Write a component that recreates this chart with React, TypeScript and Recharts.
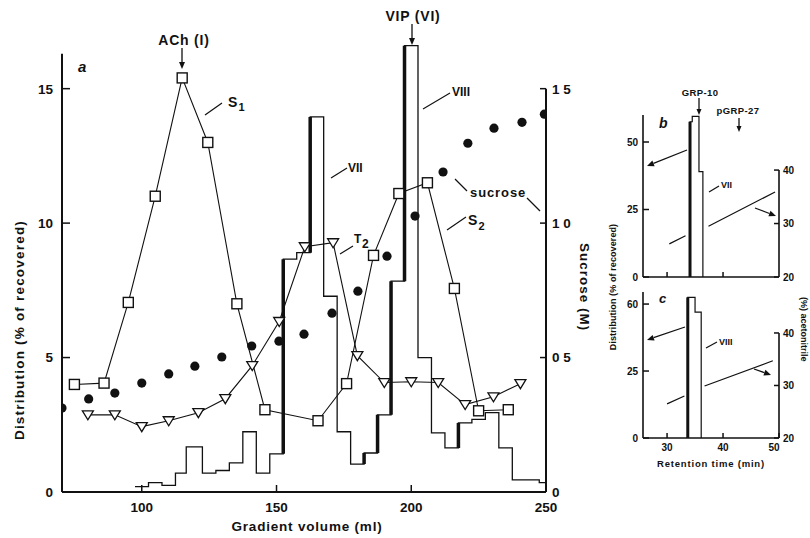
import React from 'react'
import { ComposedChart, Line, XAxis, YAxis, ReferenceLine } from 'recharts'

const FONT = '"Liberation Sans", Arial, Helvetica, sans-serif'
const INK = '#111'

// ---- panel a: sucrose gradient ----
// fraction histogram: left edge of each fraction (ml) and activity (% of recovered)
const fractionMl = [97.5, 102.5, 107.5, 112.5, 116.5, 122.5, 127.5, 132.5, 137.5, 142.5, 147.5, 152.5, 157.5, 162.5, 167.5, 172.5, 177.5, 182.5, 187.5, 192.5, 197.5, 202.5, 207.5, 212.5, 217.5, 222.5, 227.5, 232.5, 237.5, 242.5, 247.5, 250]
const fractionPct = [0.2, 0.35, 0.25, 0.7, 1.68, 0.7, 0.8, 1.08, 2.24, 0.7, 1.42, 8.66, 8.9, 13.95, 7.28, 2.24, 1.04, 1.45, 2.87, 7.84, 16.6, 5.0, 2.2, 1.64, 2.57, 2.7, 2.95, 1.64, 0.45, 0.45, 0.35, 0.35]

// heavy (printed bold) rising edges of the histogram
const heavyMl = [152.5, 162.5, 182.5, 187.5, 192.5, 197.5, 217.5]
const heavyFrom = [1.42, 8.9, 1.04, 1.45, 2.87, 7.84, 1.64]
const heavyTo = [8.66, 13.95, 1.45, 2.87, 7.84, 16.6, 2.57]

// S1 / S2 (squares)
const sMl = [75, 86, 95, 105, 115, 124.5, 135.3, 145.7, 165.4, 176, 186, 195.4, 206, 216, 225, 236]
const sPct = [4.0, 4.05, 7.05, 11.0, 15.4, 13.0, 7.0, 3.06, 2.65, 4.03, 8.8, 11.1, 11.5, 7.57, 3.02, 3.06]

// T2 (triangles)
const tMl = [80, 90, 100, 110, 121, 131, 141, 151, 160.5, 171, 180, 190, 200, 210, 220, 230.5, 240.5]
const tPct = [2.87, 2.87, 2.43, 2.65, 2.95, 3.47, 4.7, 6.34, 9.12, 9.27, 5.07, 4.07, 4.1, 4.07, 3.25, 3.54, 4.03]

// sucrose (M)
const sucroseMl = [70.4, 80.3, 90, 100, 110, 119.7, 129.7, 140.8, 150.9, 160.2, 170.6, 180.2, 191, 201.4, 211.8, 221, 230.7, 241.1, 249.4]
const sucroseM = [0.312, 0.346, 0.368, 0.405, 0.439, 0.468, 0.502, 0.543, 0.561, 0.587, 0.665, 0.747, 0.877, 1.026, 1.19, 1.297, 1.353, 1.375, 1.405]

const volTicks = [100, 150, 200, 250]
const pctTicks = [0, 5, 10, 15]
const sucTicks = [0, 0.5, 1, 1.5]
const sucTickLabels = ['0', '0 5', '1 0', '1 5']

// ---- panels b and c: HPLC ----
const bPeakMin = [34.1, 34.1, 34.5, 35.7, 36.4]
const bPeakPct = [0, 57.5, 59.5, 39, 0]
const bGradMin = [30.4, 33.3, 33.35, 37.4, 49.3]
const bGradPct = [26.2, 27.7, null, 29.5, 35.9]
const cPeakMin = [33.7, 33.7, 35.0, 36.1]
const cPeakPct = [0, 52.5, 47, 0]
const cGradMin = [30, 33.1, 33.15, 36.7, 48.9]
const cGradPct = [26.5, 28.0, null, 29.9, 34.7]

const rtTicks = [30, 40, 50]
const distTicks = [0, 25, 50]
const bDistLabels = ['0', '25', '50']
const cDistLabels = ['0', '25', '60']
const acnTicks = [20, 30, 40]

const zip = (xs: number[], ys: (number | null)[]) => xs.map((x, i) => ({ x, v: ys[i] }))

const fractionData = zip(fractionMl, fractionPct)
const heavyData = heavyMl.flatMap((x, i) => [
  { x, v: heavyFrom[i] as number | null },
  { x, v: heavyTo[i] as number | null },
  { x, v: null },
])
const sData = zip(sMl, sPct)
const tData = zip(tMl, tPct)
const sucroseData = zip(sucroseMl, sucroseM)

const bPeak = zip(bPeakMin, bPeakPct)
const bEdge = bPeak.slice(0, 2)
const bGrad = zip(bGradMin, bGradPct)
const cPeak = zip(cPeakMin, cPeakPct)
const cEdge = cPeak.slice(0, 2)
const cGrad = zip(cGradMin, cGradPct)

const txt = (size: number, extra: React.CSSProperties = {}): React.CSSProperties => ({
  fontFamily: FONT, fontWeight: 700, fontSize: size, fill: INK, ...extra,
})

// markers
const Square = ({ cx, cy }: any) =>
  cx == null ? null : <rect x={cx - 5} y={cy - 5} width={10} height={10} fill="#fff" stroke={INK} strokeWidth={1.4} />
const Tri = ({ cx, cy }: any) =>
  cx == null ? null : <path d={`M${cx - 5.5},${cy - 4} L${cx + 5.5},${cy - 4} L${cx},${cy + 5} Z`} fill="#fff" stroke={INK} strokeWidth={1.3} />
const Dot = ({ cx, cy }: any) => (cx == null ? null : <circle cx={cx} cy={cy} r={4.6} fill={INK} />)

// inward ticks
const leftTick = (labels: (v: number) => string, size: number, len: number, gap: number) => (p: any) => (
  <g key={p.index}>
    <line x1={p.x} x2={p.x + len} y1={p.y} y2={p.y} stroke={INK} strokeWidth={1.5} />
    <text x={p.x - gap} y={p.y} dy={size * 0.36} textAnchor="end" style={txt(size)}>{labels(p.payload.value)}</text>
  </g>
)
const rightTick = (labels: (v: number) => string, size: number, len: number, gap: number) => (p: any) => (
  <g key={p.index}>
    <line x1={p.x} x2={p.x - len} y1={p.y} y2={p.y} stroke={INK} strokeWidth={1.5} />
    <text x={p.x + gap} y={p.y} dy={size * 0.36} textAnchor="start" style={txt(size)}>{labels(p.payload.value)}</text>
  </g>
)
const bottomTick = (labels: ((v: number) => string) | null, size: number, len: number, gap: number) => (p: any) => (
  <g key={p.index}>
    <line x1={p.x} x2={p.x} y1={p.y} y2={p.y - len} stroke={INK} strokeWidth={1.5} />
    {labels && (
      <text x={p.x - (p.payload.value === 50 ? 5 : 0)} y={p.y + gap} textAnchor="middle" style={txt(size)}>{labels(p.payload.value)}</text>
    )}
  </g>
)

function Arrow({ x1, y1, x2, y2, head = 7, w = 3 }: any) {
  const a = Math.atan2(y2 - y1, x2 - x1)
  const bx = x2 - head * Math.cos(a)
  const by = y2 - head * Math.sin(a)
  const px = -Math.sin(a) * w
  const py = Math.cos(a) * w
  return (
    <g>
      <line x1={x1} y1={y1} x2={bx} y2={by} stroke={INK} strokeWidth={1.3} />
      <polygon points={`${x2},${y2} ${bx + px},${by + py} ${bx - px},${by - py}`} fill={INK} />
    </g>
  )
}
const Lead = ({ x1, y1, x2, y2 }: any) => <line x1={x1} y1={y1} x2={x2} y2={y2} stroke={INK} strokeWidth={1.2} />

const abs: React.CSSProperties = { position: 'absolute', left: 0, top: 0 }

function MainPanel() {
  return (
    <div style={abs}>
      <ComposedChart width={810} height={538} margin={{ top: 8, right: 224, bottom: 16, left: 22 }}>
        <XAxis
          type="number" dataKey="x" domain={[70.4, 250]} allowDataOverflow
          ticks={volTicks} interval={0} height={30} tickSize={0} tickMargin={0} tickLine={false}
          axisLine={{ stroke: INK, strokeWidth: 2 }}
          tick={bottomTick((v) => String(v), 13.5, 7, 20)}
        />
        <YAxis
          yAxisId="pct" domain={[0, 18]} ticks={pctTicks} interval={0} width={40}
          tickSize={0} tickMargin={0} tickLine={false} axisLine={false}
          tick={leftTick((v) => String(v), 13.5, 8, 9)}
        />
        <YAxis
          yAxisId="suc" orientation="right" domain={[0, 1.8]} ticks={sucTicks} interval={0} width={40}
          tickSize={0} tickMargin={0} tickLine={false} axisLine={false}
          tick={rightTick((v) => sucTickLabels[sucTicks.indexOf(v)], 13.5, 6, 6)}
        />
        <ReferenceLine yAxisId="pct" segment={[{ x: 70.4, y: 0 }, { x: 70.4, y: 16.3 }]} stroke={INK} strokeWidth={2} ifOverflow="visible" />
        <ReferenceLine yAxisId="suc" segment={[{ x: 250, y: 0 }, { x: 250, y: 1.5 }]} stroke={INK} strokeWidth={2} ifOverflow="visible" />
        <Line yAxisId="pct" data={fractionData} dataKey="v" type="stepAfter" stroke={INK} strokeWidth={1.3} dot={false} isAnimationActive={false} />
        <Line yAxisId="pct" data={heavyData} dataKey="v" type="linear" stroke={INK} strokeWidth={3.5} dot={false} connectNulls={false} isAnimationActive={false} />
        <Line yAxisId="suc" data={sucroseData} dataKey="v" type="linear" stroke="none" dot={(p: any) => <Dot key={p.index} cx={p.cx} cy={p.cy} />} isAnimationActive={false} />
        <Line yAxisId="pct" data={tData} dataKey="v" type="linear" stroke={INK} strokeWidth={1.1} dot={(p: any) => <Tri key={p.index} cx={p.cx} cy={p.cy} />} isAnimationActive={false} />
        <Line yAxisId="pct" data={sData} dataKey="v" type="linear" stroke={INK} strokeWidth={1.1} dot={(p: any) => <Square key={p.index} cx={p.cx} cy={p.cy} />} isAnimationActive={false} />
      </ComposedChart>
    </div>
  )
}

function HplcPanel({ top, bottom, distMax, acnMax, peak, edge, grad, distLabels, xLabels }: any) {
  return (
    <div style={abs}>
      <ComposedChart width={810} height={538} margin={{ top, right: 1, bottom, left: 613 }}>
        <XAxis
          type="number" dataKey="x" domain={[25.7, 50]} ticks={xLabels ? rtTicks : rtTicks.slice(0, 2)} interval={0}
          height={20} tickSize={0} tickMargin={0} tickLine={false}
          axisLine={{ stroke: INK, strokeWidth: 1.6 }}
          tick={bottomTick(xLabels ? (v) => String(v) : null, 10, 5, 13)}
        />
        <YAxis
          yAxisId="dist" domain={[0, distMax]} ticks={distTicks} interval={0} width={30}
          tickSize={0} tickMargin={0} tickLine={false} axisLine={{ stroke: INK, strokeWidth: 1.6 }}
          tick={leftTick((v) => distLabels[distTicks.indexOf(v)], 10, 6, 5)}
        />
        <YAxis
          yAxisId="acn" orientation="right" domain={[20, acnMax]} ticks={acnTicks} interval={0} width={30}
          tickSize={0} tickMargin={0} tickLine={false} axisLine={false}
          tick={rightTick((v) => String(v), 10, 5, 4)}
        />
        <ReferenceLine yAxisId="acn" segment={[{ x: 50, y: 20 }, { x: 50, y: 40 }]} stroke={INK} strokeWidth={1.6} ifOverflow="visible" />
        <Line yAxisId="dist" data={peak} dataKey="v" type="stepAfter" stroke={INK} strokeWidth={1.2} dot={false} isAnimationActive={false} />
        <Line yAxisId="dist" data={edge} dataKey="v" type="linear" stroke={INK} strokeWidth={3} dot={false} isAnimationActive={false} />
        <Line yAxisId="acn" data={grad} dataKey="v" type="linear" stroke={INK} strokeWidth={1.2} dot={false} connectNulls={false} isAnimationActive={false} />
      </ComposedChart>
    </div>
  )
}

function Annotations() {
  return (
    <svg width={810} height={538} style={{ ...abs, pointerEvents: 'none' }}>
      {/* panel a */}
      <text x={184} y={45} textAnchor="middle" style={txt(14, { letterSpacing: 0.8 })}>ACh (I)</text>
      <Arrow x1={182} y1={48} x2={182} y2={69} />
      <text x={413} y={21} textAnchor="middle" style={txt(14, { letterSpacing: 0.8 })}>VIP (VI)</text>
      <Arrow x1={412} y1={24} x2={412} y2={45} />
      <text x={78} y={72} style={txt(15, { fontStyle: 'italic' })}>a</text>

      <Lead x1={205} y1={115} x2={222} y2={103} />
      <text x={228} y={107} style={txt(14)}>S</text>
      <text x={238.5} y={111} style={txt(11)}>1</text>

      <Lead x1={331} y1={178} x2={347} y2={168} />
      <text x={348} y={172} style={txt(12)}>VII</text>

      <Lead x1={340} y1={254} x2={353} y2={246} />
      <text x={354} y={243} style={txt(12)}>T</text>
      <text x={362} y={248} style={txt(12)}>2</text>

      <Lead x1={423} y1={109} x2={450} y2={93} />
      <text x={452} y={96} style={txt(12)}>VIII</text>

      <Lead x1={455} y1={179} x2={467} y2={191} />
      <text x={470} y={197} style={txt(13, { letterSpacing: 0.9 })}>sucrose</text>
      <Lead x1={527} y1={198} x2={540} y2={211} />

      <Lead x1={447} y1={230} x2={466} y2={217} />
      <text x={468} y={225} style={txt(14)}>S</text>
      <text x={478.5} y={230} style={txt(11)}>2</text>

      <text x={307} y={531} textAnchor="middle" style={txt(13.5, { letterSpacing: 0.8 })}>Gradient volume (ml)</text>
      <text transform="translate(24,330) rotate(-90)" textAnchor="middle" style={txt(13.5, { letterSpacing: 1.2 })}>Distribution (% of recovered)</text>
      <text transform="translate(580,287) rotate(90)" textAnchor="middle" style={txt(13.5, { letterSpacing: 1 })}>Sucrose (M)</text>

      {/* panel b */}
      <text x={700} y={96} textAnchor="middle" style={txt(9.5, { letterSpacing: 0.4 })}>GRP-10</text>
      <Arrow x1={699} y1={98} x2={699} y2={115} head={6} w={2.5} />
      <text x={738} y={114} textAnchor="middle" style={txt(9.5, { letterSpacing: 0.4 })}>pGRP-27</text>
      <Arrow x1={739} y1={118} x2={739} y2={132} head={6} w={2.5} />
      <text x={659} y={128} style={txt(14, { fontStyle: 'italic' })}>b</text>
      <Lead x1={709} y1={192} x2={719} y2={186} />
      <text x={721} y={188} style={txt(9)}>VII</text>
      <Arrow x1={687} y1={150} x2={647} y2={166} />
      <Arrow x1={755} y1={208} x2={776} y2={216} />

      {/* panel c */}
      <text x={659} y={303} style={txt(13, { fontStyle: 'italic' })}>c</text>
      <Lead x1={706} y1={348} x2={717} y2={342} />
      <text x={719} y={345} style={txt(9)}>VIII</text>
      <Arrow x1={685} y1={327} x2={647} y2={340} />
      <Arrow x1={754} y1={369} x2={771} y2={375} />
      <text x={711} y={467} textAnchor="middle" style={txt(9.5, { letterSpacing: 0.8 })}>Retention  time (min)</text>

      <text transform="translate(616,287) rotate(-90)" textAnchor="middle" style={txt(9, { letterSpacing: 0.1 })}>Distribution (% of recovered)</text>
      <text transform="translate(801,297) rotate(90)" textAnchor="start" style={txt(9)}>(%) acetonitrile</text>
    </svg>
  )
}

export default function App() {
  return (
    <div style={{ ...abs, width: 810, height: 538, background: '#fff', overflow: 'hidden' }}>
      <MainPanel />
      <HplcPanel top={115} bottom={241} distMax={60} acnMax={50.3} peak={bPeak} edge={bEdge} grad={bGrad} distLabels={bDistLabels} xLabels={false} />
      <HplcPanel top={292} bottom={80} distMax={54.5} acnMax={47.8} peak={cPeak} edge={cEdge} grad={cGrad} distLabels={cDistLabels} xLabels={true} />
      <Annotations />
    </div>
  )
}
